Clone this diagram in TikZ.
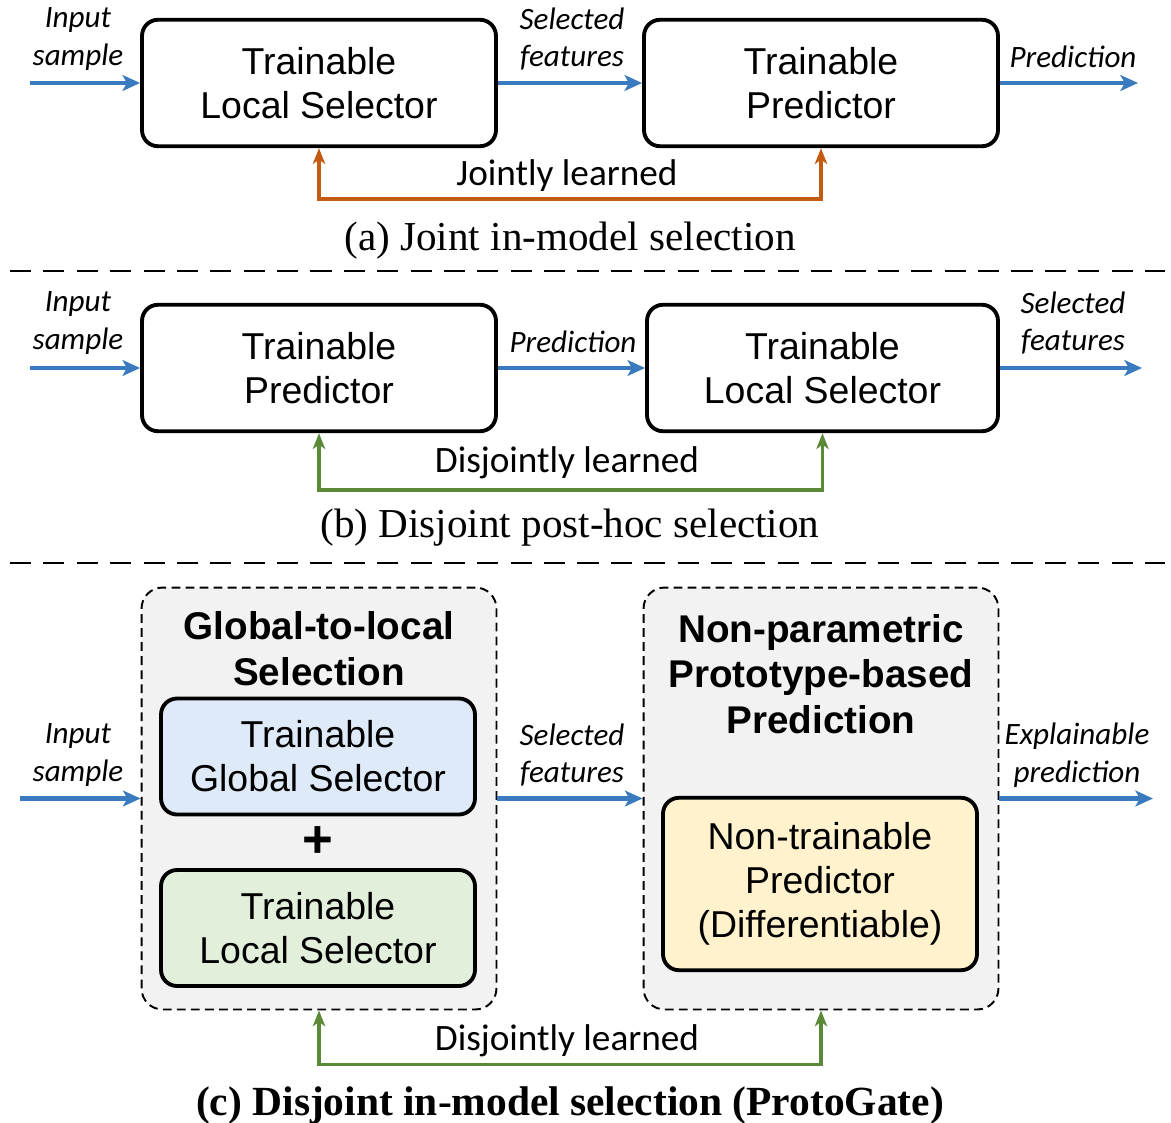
\documentclass[tikz,border=0pt]{standalone}
\usepackage{fontspec}
\setmainfont{Liberation Sans}
\newfontfamily\calfont{Carlito}
\newfontfamily\timesfont{Liberation Serif}
\usetikzlibrary{arrows.meta}
\definecolor{myblue}{HTML}{3A7BBF}
\definecolor{myorange}{HTML}{C55A11}
\definecolor{mygreen}{HTML}{5A8A38}
\definecolor{mygray}{HTML}{F2F2F2}
\definecolor{lblue}{HTML}{DEEAF7}
\definecolor{lgreen}{HTML}{E2EFDA}
\definecolor{lyellow}{HTML}{FFF2CC}
\begin{document}
\begin{tikzpicture}[x=0.02cm,y=-0.02cm,
  mybox/.style={draw=black, line width=2.2pt, rounded corners=0.32cm,
    minimum width=7.08cm, minimum height=2.53cm, align=center,
    font=\fontsize{21.3}{25}\selectfont, inner sep=0pt},
  inbox/.style={mybox, minimum width=6.28cm, minimum height=2.32cm},
  grpbox/.style={draw=black, line width=1.1pt, dash pattern=on 5pt off 3pt, fill=mygray,
    rounded corners=0.42cm, minimum width=7.1cm, minimum height=8.44cm, inner sep=0pt},
  titletext/.style={font=\bfseries\fontsize{22}{26}\selectfont, align=center},
  labtext/.style={font=\calfont\itshape\fontsize{17.7}{21.5}\selectfont, align=center},
  learntext/.style={font=\calfont\fontsize{21.2}{24}\selectfont},
  captext/.style={font=\timesfont\fontsize{23.4}{26}\selectfont},
  flowline/.style={draw=myblue, line width=2.3pt, -{Stealth[length=10pt,width=9pt,inset=2.5pt]}},
  jline/.style={draw=myorange, line width=2pt, {Stealth[length=9pt,width=7pt,inset=2.5pt]}-{Stealth[length=9pt,width=7pt,inset=2.5pt]}},
  dline/.style={jline, draw=mygreen},
  sepline/.style={draw=black, line width=1.4pt, dash pattern=on 12pt off 7pt}
]
\useasboundingbox (0,0) rectangle (1171,1123);

% ---------- (a) ----------
\node[mybox] (a1) at (319,83) {Trainable\\Local Selector};
\node[mybox] (a2) at (821,83) {Trainable\\Predictor};
\coordinate (ainA) at (30,83);
\coordinate (aout) at (1138,83);
\draw[flowline] (ainA) -- (a1.west);
\draw[flowline] (a1.east) -- (a2.west);
\draw[flowline] (a2.east) -- (aout);
\node[labtext] (la1) at (78,39) {Input\\sample};
\node[labtext] (la2) at (572,39) {Selected\\features};
\node[labtext] (la3) at (1073,57) {Prediction};
\draw[jline] (a1.south) -- ++(0,51) coordinate (ja) -| (a2.south);
\node[learntext] (lja) at (567,176) {Jointly learned};
\node[captext] (capa) at (570,241) {(a) Joint in-model selection};
\coordinate (s1l) at (10,271);
\coordinate (s1r) at (1165,271);
\draw[sepline] (s1l) -- (s1r);

% ---------- (b) ----------
\node[mybox] (b1) at (319,368) {Trainable\\Predictor};
\node[mybox, minimum width=7.02cm] (b2) at (822.5,368) {Trainable\\Local Selector};
\coordinate (binA) at (30,368);
\coordinate (bout) at (1142,368);
\draw[flowline] (binA) -- (b1.west);
\draw[flowline] (b1.east) -- (b2.west);
\draw[flowline] (b2.east) -- (bout);
\node[labtext] (lb1) at (78,323) {Input\\sample};
\node[labtext] (lb2) at (573,342) {Prediction};
\node[labtext] (lb3) at (1073,323) {Selected\\features};
\draw[dline] (b1.south) -- ++(0,57) coordinate (jb) -| (b2.south);
\node[learntext] (ljb) at (567,463) {Disjointly learned};
\node[captext] (capb) at (570,528) {(b) Disjoint post-hoc selection};
\coordinate (s2l) at (10,563);
\coordinate (s2r) at (1165,563);
\draw[sepline] (s2l) -- (s2r);

% ---------- (c) ----------
\node[grpbox] (c1) at (319,798.5) {};
\node[grpbox] (c2) at (821,798.5) {};
\node[titletext] (t1) at (319,649) {Global-to-local\\Selection};
\node[titletext] (t2) at (821,674) {Non-parametric\\Prototype-based\\Prediction};
\node[inbox, fill=lblue] (g1) at (318,756.5) {Trainable\\Global Selector};
\node[font=\bfseries\fontsize{30}{30}\selectfont] (plus) at (318,842) {+};
\node[inbox, fill=lgreen] (g2) at (318,928) {Trainable\\Local Selector};
\node[inbox, fill=lyellow, minimum height=3.45cm] (p1) at (820,884) {Non-trainable\\Predictor\\(Differentiable)};
\coordinate (cinA) at (20,798.5);
\coordinate (cout) at (1153,798.5);
\draw[flowline] (cinA) -- (c1.west);
\draw[flowline] (c1.east) -- (c2.west);
\draw[flowline] (c2.east) -- (cout);
\node[labtext] (lc1) at (78,755) {Input\\sample};
\node[labtext] (lc2) at (572,755) {Selected\\features};
\node[labtext] (lc3) at (1077,755) {Explainable\\prediction};
\draw[dline] (c1.south) -- ++(0,54) coordinate (jc) -| (c2.south);
\node[learntext] (ljc) at (567,1041) {Disjointly learned};
\node[captext, font=\timesfont\bfseries\fontsize{23.6}{26}\selectfont] (capc) at (570,1106) {(c) Disjoint in-model selection (ProtoGate)};
\end{tikzpicture}
\end{document}
